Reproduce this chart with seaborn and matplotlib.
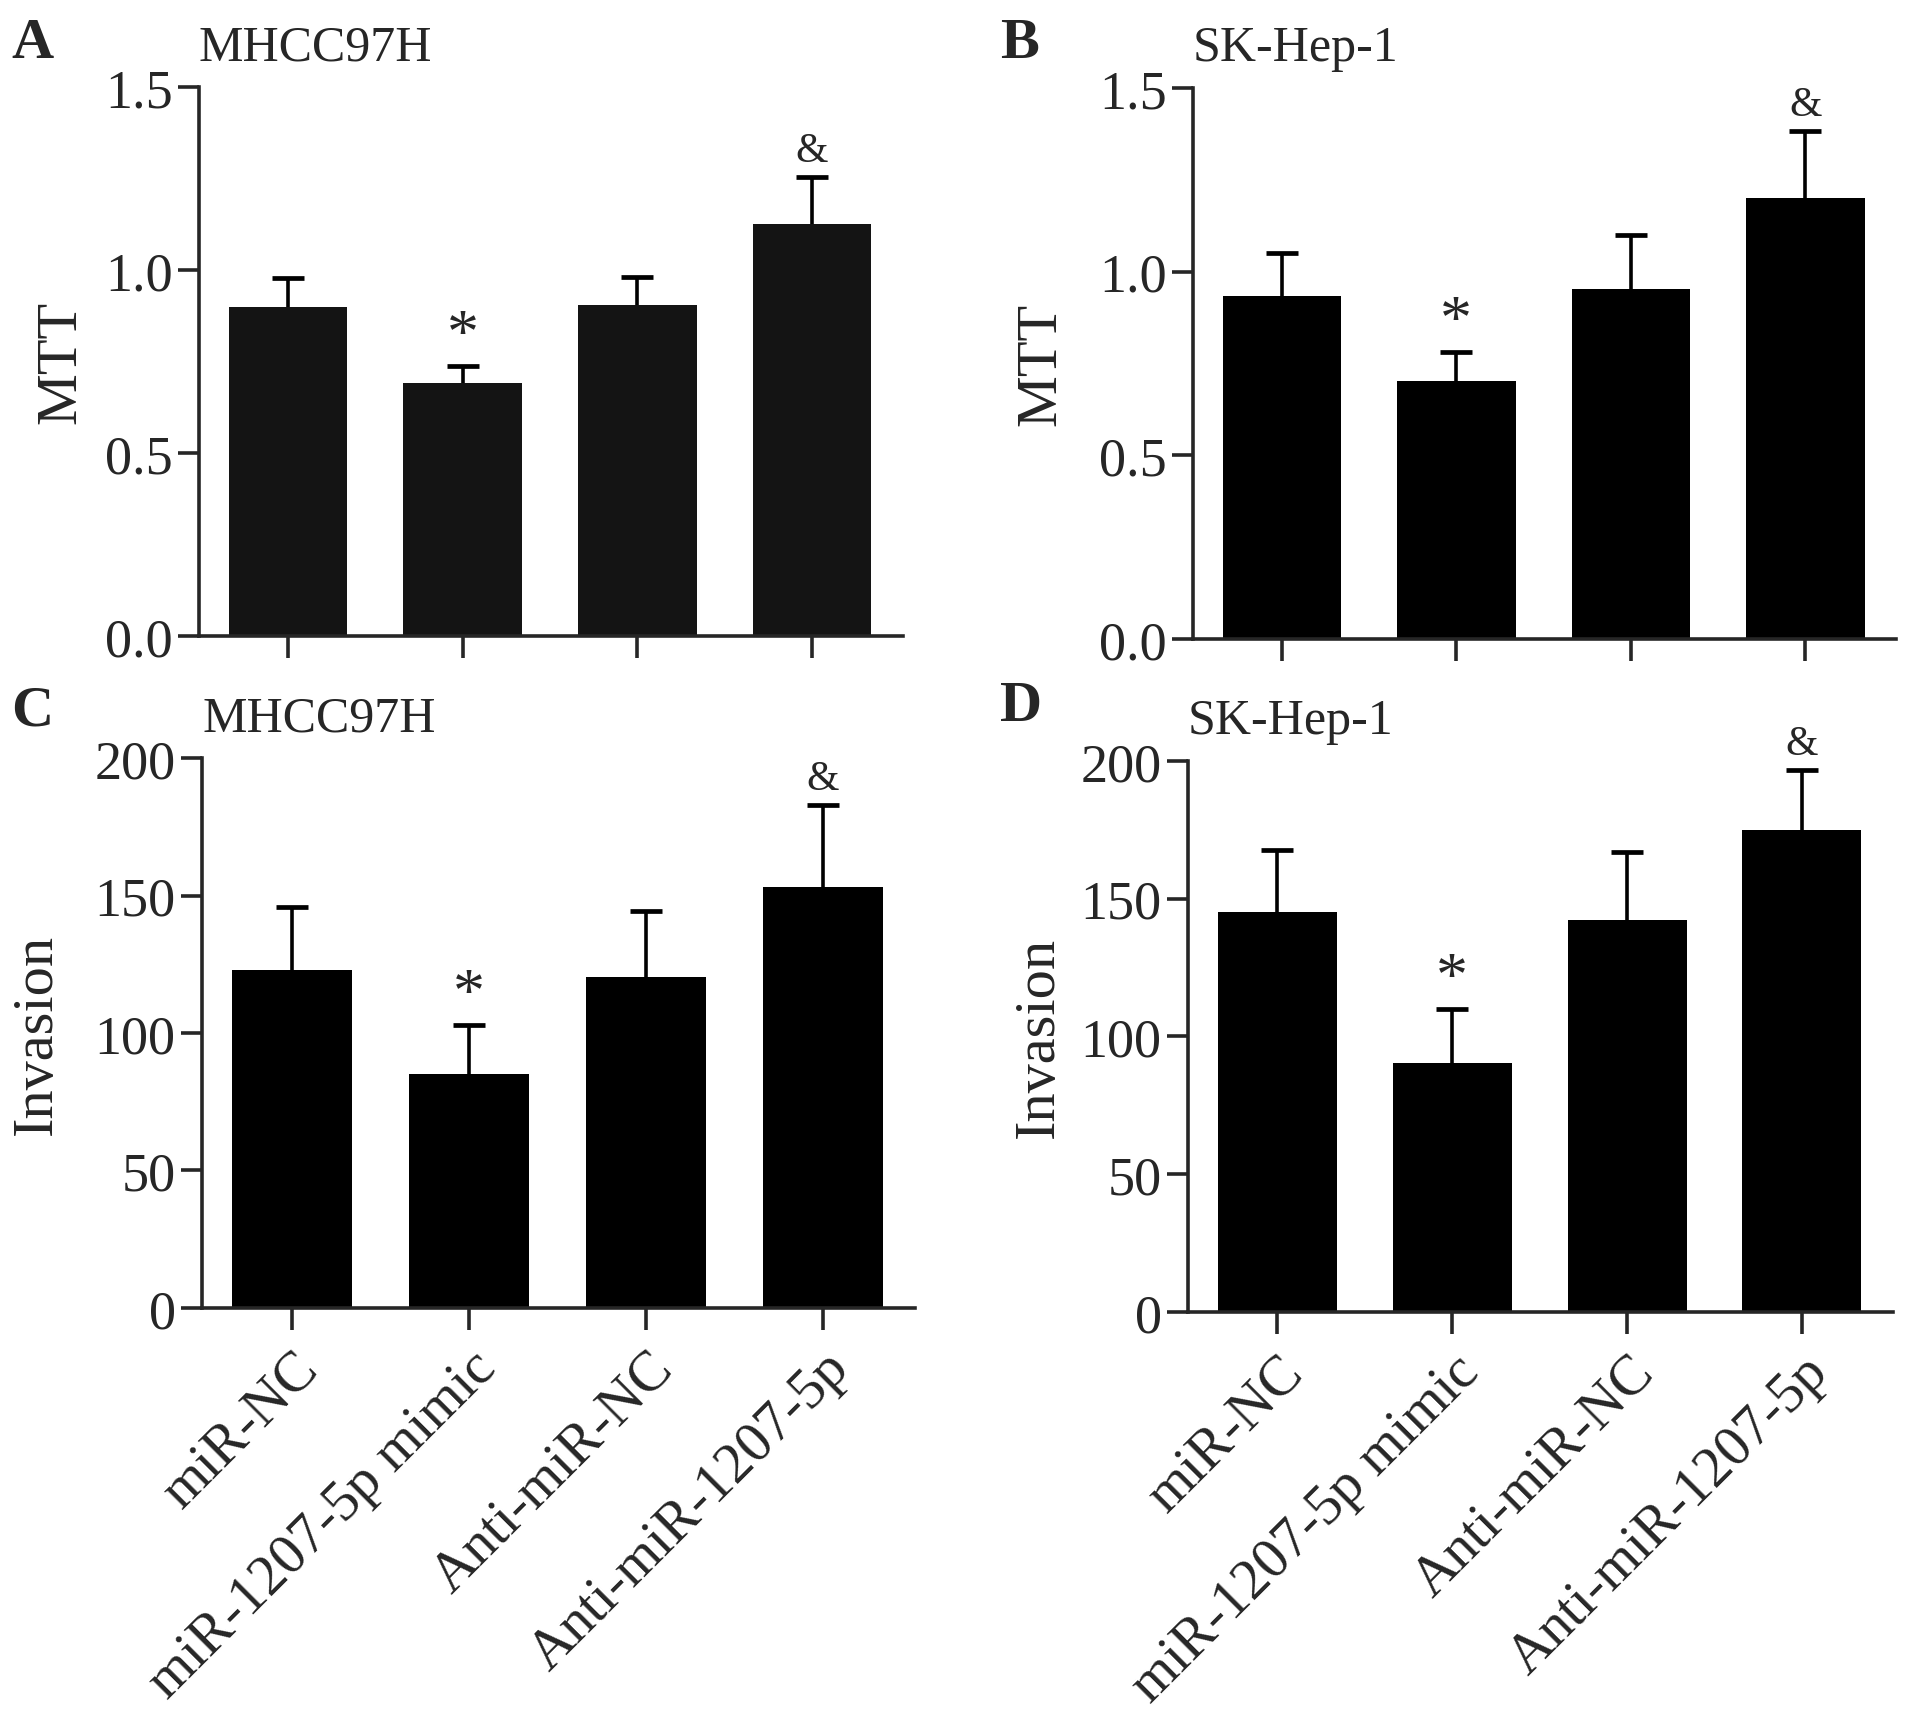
import numpy as np
import pandas as pd
import matplotlib
matplotlib.use("Agg")
import matplotlib.pyplot as plt
import seaborn as sns

groups = ["miR-NC", "miR-1207-5p mimic", "Anti-miR-NC", "Anti-miR-1207-5p"]

# MTT, MHCC97H / SK-Hep-1
mtt_mhcc = [0.899, 0.691, 0.904, 1.125]
mtt_mhcc_sd = [0.079, 0.046, 0.078, 0.129]
mtt_sk = [0.934, 0.702, 0.954, 1.201]
mtt_sk_sd = [0.118, 0.079, 0.147, 0.181]

# Invasion, MHCC97H / SK-Hep-1
inv_mhcc = [123.0, 85.2, 120.3, 153.1]
inv_mhcc_sd = [23.0, 17.7, 24.1, 30.0]
inv_sk = [145.2, 90.4, 142.4, 175.1]
inv_sk_sd = [22.4, 19.4, 24.5, 21.6]

marks = ["", "*", "", "&"]

sns.set_style("ticks")
plt.rcParams["font.family"] = ["Liberation Serif", "DejaVu Serif"]
plt.rcParams["axes.linewidth"] = 2.6

fig = plt.figure(figsize=(19.13, 17.31), dpi=100)

panels = [
    # letter, title, ylabel, means, sd, ylim, ticks, ticklabels, rect, letter pos, label x, color
    ("A", "MHCC97H", "MTT", mtt_mhcc, mtt_mhcc_sd, 1.5, [0, 0.5, 1.0, 1.5],
     ["0.0", "0.5", "1.0", "1.5"], [0.104, 0.632, 0.368, 0.317], (0.006, 0.9665), -0.159, "#141414"),
    ("B", "SK-Hep-1", "MTT", mtt_sk, mtt_sk_sd, 1.5, [0, 0.5, 1.0, 1.5],
     ["0.0", "0.5", "1.0", "1.5"], [0.6236, 0.6303, 0.3675, 0.3183], (0.523, 0.9665), -0.178, "black"),
    ("C", "MHCC97H", "Invasion", inv_mhcc, inv_mhcc_sd, 200, [0, 50, 100, 150, 200],
     ["0", "50", "100", "150", "200"], [0.1056, 0.2438, 0.3727, 0.3177], (0.006, 0.581), -0.195, "black"),
    ("D", "SK-Hep-1", "Invasion", inv_sk, inv_sk_sd, 200, [0, 50, 100, 150, 200],
     ["0", "50", "100", "150", "200"], [0.621, 0.2415, 0.3685, 0.3183], (0.523, 0.5835), -0.174, "black"),
]

for i, (letter, title, ylab, means, sd, ytop, ticks, tlabels, rect, lpos, labx, col) in enumerate(panels):
    ax = fig.add_axes(rect)
    df = pd.DataFrame({"group": groups, "value": means})
    sns.barplot(data=df, x="group", y="value", color=col, width=0.68,
                errorbar=None, linewidth=0, saturation=1, ax=ax)
    # upper error bars only
    eb = ax.errorbar(np.arange(len(groups)), means, yerr=[np.zeros(len(sd)), sd],
                     fmt="none", ecolor="black", elinewidth=2.6, capsize=11.5,
                     capthick=3.4, zorder=1)
    eb[1][0].remove()  # drop the cap sitting on the bar top
    for k, m in enumerate(marks):
        if m:
            fs = 46 if m == "*" else 30
            off = 0 if m == "*" else 5
            ax.annotate(m, (k, means[k] + sd[k]), xytext=(0, off), textcoords="offset points",
                        ha="center", va="bottom", fontsize=fs)
    ax.set_xlim(-0.51, 3.52)
    ax.set_ylim(0, ytop)
    ax.set_yticks(ticks)
    ax.set_yticklabels(tlabels, fontsize=39)
    ax.set_xlabel("")
    ax.set_ylabel(ylab, fontsize=42)
    ax.yaxis.set_label_coords(labx, 0.5)
    ax.set_title(title, loc="left", fontsize=36, pad=20)
    ax.tick_params(axis="y", length=15, width=2.6, pad=4)
    ax.tick_params(axis="x", length=16, width=2.6, pad=8)
    if i < 2:
        ax.set_xticklabels([])
    else:
        ax.set_xticklabels(groups, rotation=45, ha="right", rotation_mode="anchor", fontsize=41)
    sns.despine(ax=ax)
    for s in ax.spines.values():
        s.set_linewidth(2.6)
    fig.text(lpos[0], lpos[1], letter, fontsize=42, fontweight="bold", ha="left", va="baseline")

fig.savefig("out.png", dpi=100)
